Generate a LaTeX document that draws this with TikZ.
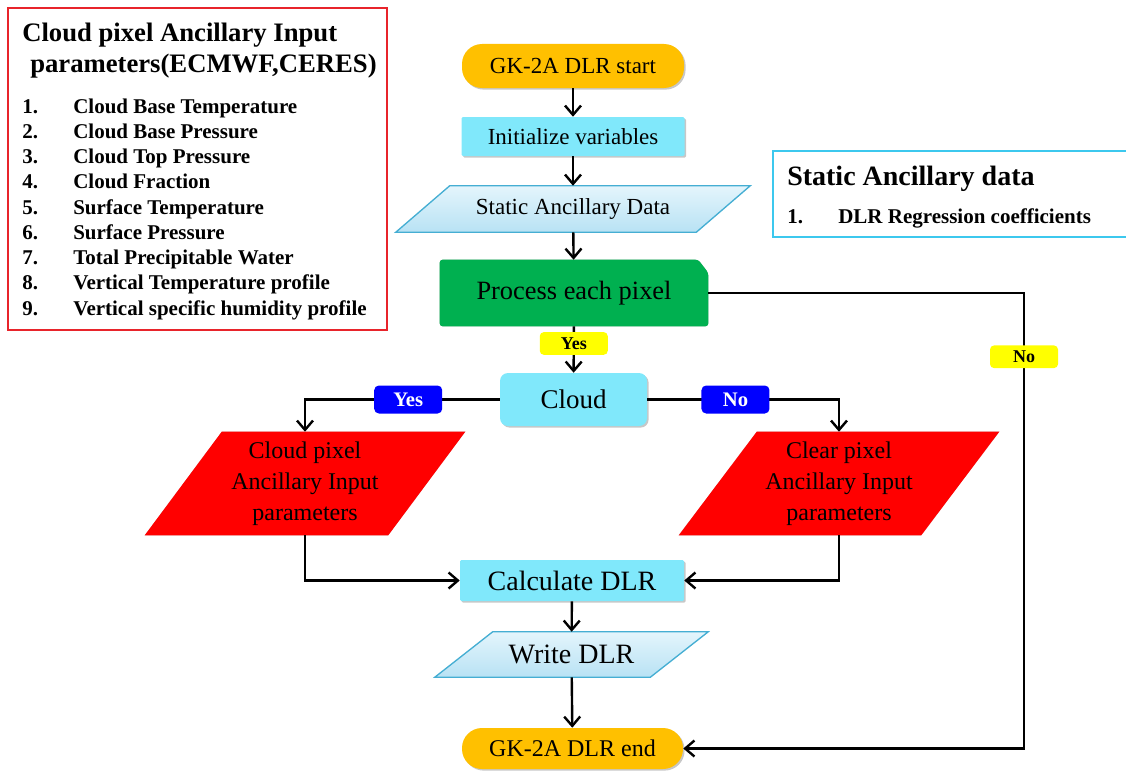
\documentclass[tikz,border=0pt]{standalone}
\usepackage{fontspec}
\setmainfont{Liberation Serif}
\usetikzlibrary{arrows.meta,backgrounds,shadows}

\definecolor{gkorange}{HTML}{FFC000}
\definecolor{gkcyan}{HTML}{80E8FB}
\definecolor{gkgreen}{HTML}{00B050}
\definecolor{gkred}{HTML}{FF0000}
\definecolor{gkblue}{HTML}{0000FF}
\definecolor{gkyellow}{HTML}{FFFF00}
\definecolor{paratop}{HTML}{E4F5FC}
\definecolor{parabot}{HTML}{B8E2F4}
\definecolor{paraedge}{HTML}{45AED3}
\definecolor{boxred}{HTML}{E8242B}
\definecolor{boxcyan}{HTML}{3CC8EE}

\begin{document}
\begin{tikzpicture}[x=0.75pt,y=-0.75pt,
  conn/.style={line width=1.8pt,-{Straight Barb[length=7pt,width=12pt,line width=1.8pt]}},
  shd/.style={drop shadow={shadow xshift=1.2pt,shadow yshift=-1.2pt,fill=black,opacity=0.22}},
  basebox/.style={inner sep=0pt,align=center,font=\fontsize{17.25pt}{21pt}\selectfont},
  pillbox/.style={basebox,fill=gkorange,rounded corners=15pt,shd},
  cyanbox/.style={basebox,fill=gkcyan,rounded corners=1pt,shd},
  ghostbox/.style={basebox},
  yellowlbl/.style={fill=gkyellow,rounded corners=3pt,inner sep=0pt,minimum width=51pt,minimum height=17pt,font=\fontsize{13.5pt}{14pt}\selectfont\bfseries},
  bluelbl/.style={fill=gkblue,text=white,rounded corners=3.5pt,inner sep=0pt,minimum width=51pt,minimum height=21pt,font=\fontsize{15.5pt}{16pt}\selectfont\bfseries},
  legtitle/.style={anchor=base west,inner sep=0pt,font=\fontsize{20pt}{24pt}\selectfont\bfseries},
  legitem/.style={anchor=base west,inner sep=0pt,font=\fontsize{15.75pt}{18pt}\selectfont\bfseries}
]
\useasboundingbox (0,0) rectangle (1126,774);

% ---------- left legend box ----------
\node[draw=boxred,line width=2.2pt,inner sep=0pt,minimum width=284.25pt,minimum height=241.5pt] (legL) at (197.5,169) {};
\node[legtitle] (lt1) at (22,42) {Cloud pixel Ancillary Input};
\node[legtitle] (lt2) at (30,73) {parameters(ECMWF,CERES)};
\foreach \i/\t [count=\k from 0] in {1/Cloud Base Temperature,2/Cloud Base Pressure,3/Cloud Top Pressure,4/Cloud Fraction,5/Surface Temperature,6/Surface Pressure,7/Total Precipitable Water,8/Vertical Temperature profile,9/Vertical specific humidity profile}{
  \node[legitem] (ln\i) at (22,113+25.25*\k) {\i.};
  \node[legitem] (lx\i) at (73,113+25.25*\k) {\t};
}

% ---------- right legend box ----------
\node[draw=boxcyan,line width=2pt,inner sep=0pt,minimum width=267.75pt,minimum height=64.5pt] (legR) at (951.5,194) {};
\node[anchor=base west,inner sep=0pt,font=\fontsize{21pt}{24pt}\selectfont\bfseries] (rt1) at (787,185) {Static Ancillary data};
\node[legitem] (rn1) at (787,223) {1.};
\node[legitem] (rx1) at (838,223) {DLR Regression coefficients};

% ---------- flow nodes ----------
\node[pillbox,minimum width=166.5pt,minimum height=33pt] (start) at (573,66) {GK-2A DLR start};
\node[cyanbox,minimum width=167.25pt,minimum height=29.25pt] (init) at (573,136.5) {Initialize variables};
\node[ghostbox,minimum width=265.5pt,minimum height=34.5pt] (sad) at (573,209) {Static Ancillary Data};
\node[ghostbox,minimum width=201pt,minimum height=49.5pt,font=\fontsize{19.8pt}{22pt}\selectfont] (proc) at (574,293) {\raisebox{-2pt}{Process each pixel}};
\node[cyanbox,rounded corners=6pt,minimum width=110.25pt,minimum height=39.75pt,font=\fontsize{20.25pt}{22pt}\selectfont] (cloud) at (573.5,399.5) {Cloud};
\node[ghostbox,minimum width=240pt,minimum height=77.25pt,font=\fontsize{18pt}{22.5pt}\selectfont] (cpix) at (305,483.5) {\raisebox{-2pt}{\begin{tabular}{@{}c@{}}Cloud pixel\\[0.5pt]Ancillary Input\\[0.5pt]parameters\end{tabular}}};
\node[ghostbox,minimum width=240pt,minimum height=77.25pt,font=\fontsize{18pt}{22.5pt}\selectfont] (clpix) at (839,483.5) {\raisebox{-2pt}{\begin{tabular}{@{}c@{}}Clear pixel\\[0.5pt]Ancillary Input\\[0.5pt]parameters\end{tabular}}};
\node[cyanbox,minimum width=168pt,minimum height=30.75pt,font=\fontsize{21pt}{22pt}\selectfont] (calc) at (572,580.5) {Calculate DLR};
\node[ghostbox,minimum width=204.75pt,minimum height=33.75pt,font=\fontsize{21pt}{22pt}\selectfont] (write) at (571.5,654.5) {Write DLR};
\node[pillbox,minimum width=165.75pt,minimum height=30.75pt,font=\fontsize{18pt}{20pt}\selectfont] (stop) at (572.5,748.5) {GK-2A DLR end};

% ---------- shapes drawn behind the texts ----------
\begin{scope}[on background layer]
  % Static Ancillary Data
  \fill[black,opacity=0.22,xshift=1.2pt,yshift=-1.2pt] (sad.south west) -- ([xshift=40.5pt]sad.north west) -- (sad.north east) -- ([xshift=-40.5pt]sad.south east) -- cycle;
  \draw[draw=paraedge,line width=1pt,top color=paratop,bottom color=parabot] (sad.south west) -- ([xshift=40.5pt]sad.north west) -- (sad.north east) -- ([xshift=-40.5pt]sad.south east) -- cycle;
  % Write DLR
  \fill[black,opacity=0.22,xshift=1.2pt,yshift=-1.2pt] (write.south west) -- ([xshift=43.5pt]write.north west) -- (write.north east) -- ([xshift=-43.5pt]write.south east) -- cycle;
  \draw[draw=paraedge,line width=1pt,top color=paratop,bottom color=parabot] (write.south west) -- ([xshift=43.5pt]write.north west) -- (write.north east) -- ([xshift=-43.5pt]write.south east) -- cycle;
  % Process each pixel (snipped corner)
  \fill[black,opacity=0.22,xshift=1.2pt,yshift=-1.2pt,rounded corners=2pt] (proc.south west) -- (proc.north west) -- ([xshift=-7.5pt]proc.north east) -- ([yshift=-9.75pt]proc.north east) -- (proc.south east) -- cycle;
  \fill[gkgreen,rounded corners=2pt] (proc.south west) -- (proc.north west) -- ([xshift=-7.5pt]proc.north east) -- ([yshift=-9.75pt]proc.north east) -- (proc.south east) -- cycle;
  % Cloud pixel
  \fill[black,opacity=0.22,xshift=1.2pt,yshift=-1.2pt] (cpix.south west) -- ([xshift=57.75pt]cpix.north west) -- (cpix.north east) -- ([xshift=-57.75pt]cpix.south east) -- cycle;
  \fill[gkred] (cpix.south west) -- ([xshift=57.75pt]cpix.north west) -- (cpix.north east) -- ([xshift=-57.75pt]cpix.south east) -- cycle;
  % Clear pixel
  \fill[black,opacity=0.22,xshift=1.2pt,yshift=-1.2pt] (clpix.south west) -- ([xshift=58.5pt]clpix.north west) -- (clpix.north east) -- ([xshift=-58.5pt]clpix.south east) -- cycle;
  \fill[gkred] (clpix.south west) -- ([xshift=58.5pt]clpix.north west) -- (clpix.north east) -- ([xshift=-58.5pt]clpix.south east) -- cycle;
\end{scope}

% ---------- connectors ----------
\coordinate (noX) at (1024,293);
\draw[conn] (start) -- (init);
\draw[conn] (init) -- (sad);
\draw[conn] (sad) -- (proc);
\draw[conn] (proc) -- node[pos=0.37,yellowlbl] (yesY) {Yes} (cloud);
\draw[conn] (cloud.west) -| node[pos=0.235,bluelbl] (yesB) {Yes} (cpix.north);
\draw[conn] (cloud.east) -| node[pos=0.23,bluelbl] (noB) {No} (clpix.north);
\draw[conn] (proc.east) -- (noX) -- node[pos=0.14,yellowlbl] (noY) {No} (noX |- stop.east) -- (stop.east);
\draw[conn] (cpix.south) |- (calc.west);
\draw[conn] (clpix.south) |- (calc.east);
\draw[conn] (calc) -- (write);
\draw[conn] (write) -- (stop);
\end{tikzpicture}
\end{document}
